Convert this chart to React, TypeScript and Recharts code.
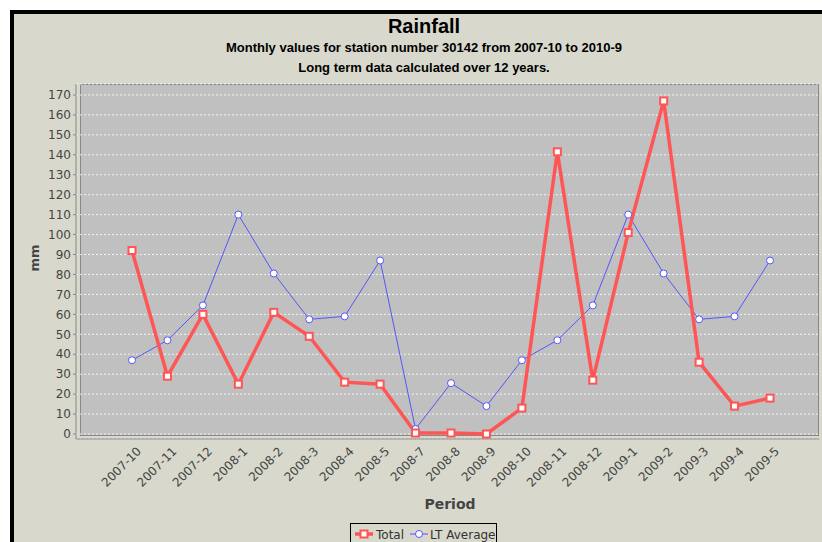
import { LineChart, Line, XAxis, YAxis, CartesianGrid } from 'recharts'

const periods = [
  '2007-10', '2007-11', '2007-12', '2008-1', '2008-2', '2008-3', '2008-4', '2008-5',
  '2008-7', '2008-8', '2008-9', '2008-10', '2008-11', '2008-12', '2009-1', '2009-2',
  '2009-3', '2009-4', '2009-5',
]
const total = [92, 29, 60, 25, 61, 49, 26, 25, 0.5, 0.5, 0, 13, 141.5, 27, 101, 167, 36, 14, 18]
const ltAverage = [37, 47, 64.5, 110, 80.5, 57.5, 59, 87, 2.5, 25.5, 14, 37, 47, 64.5, 110, 80.5, 57.5, 59, 87]
const yTicks = [0, 10, 20, 30, 40, 50, 60, 70, 80, 90, 100, 110, 120, 130, 140, 150, 160, 170]

const data = periods.map((p, i) => ({ period: p, total: total[i], lt: ltAverage[i] }))

const RED = '#ff5555'
const BLUE = '#5555ff'
const SANS = '"DejaVu Sans", sans-serif'

const SquareDot = (props: any) => {
  const { cx, cy } = props
  if (cx == null || cy == null) return null
  return <rect x={cx - 3.5} y={cy - 3.5} width={7} height={7} fill="#fff" stroke={RED} strokeWidth={2} />
}

const CircleDot = (props: any) => {
  const { cx, cy } = props
  if (cx == null || cy == null) return null
  return <circle cx={cx} cy={cy} r={3.5} fill="#fff" stroke={BLUE} strokeWidth={1} />
}

const PeriodTick = (props: any) => {
  const { x, y, payload } = props
  const ax = x + 10
  const ay = y + 13
  return (
    <text x={ax} y={ay} transform={`rotate(-45, ${ax}, ${ay})`} textAnchor="end" fontSize={12} fill="#444" fontFamily={SANS}>
      {payload.value}
    </text>
  )
}

export default function App() {
  return (
    <div style={{ position: 'fixed', left: 0, top: 0, width: 822, height: 542, background: '#fff', overflow: 'hidden' }}>
      <div style={{ position: 'absolute', left: 10, top: 10, width: 830, height: 540, borderLeft: '4px solid #000', borderTop: '4px solid #000', background: '#d8d9cc' }} />
      <div style={{ position: 'absolute', left: 14, width: 820, top: 14, textAlign: 'center', fontFamily: '"Liberation Sans", Arial, sans-serif', fontWeight: 'bold', color: '#000' }}>
        <div style={{ fontSize: 20, lineHeight: '24px' }}>Rainfall</div>
        <div style={{ fontSize: 13, lineHeight: '20px', marginTop: 0 }}>Monthly values for station number 30142 from 2007-10 to 2010-9</div>
        <div style={{ fontSize: 13, lineHeight: '20px' }}>Long term data calculated over 12 years.</div>
      </div>
      <div style={{ position: 'absolute', left: 80, top: 84, width: 739, height: 352, background: '#c0c0c0', border: '1px solid #888', boxSizing: 'border-box' }} />
      <div style={{ position: 'absolute', left: 0, top: 0 }}>
        <LineChart width={822} height={542} data={data} margin={{ top: 84, right: 3, bottom: 40, left: 16 }}>
          <CartesianGrid vertical={false} stroke="#ffffff" strokeDasharray="2 2" strokeOpacity={0.8} />
          <XAxis
            dataKey="period"
            height={63}
            padding={{ left: 56, right: 49 }}
            tickLine={false}
            tickSize={0}
            tickMargin={0}
            axisLine={{ stroke: '#888' }}
            interval={0}
            tick={<PeriodTick />}
          />
          <YAxis
            width={60}
            domain={[-2.5, 175.5]}
            ticks={yTicks}
            allowDataOverflow
            interval={0}
            tickSize={3}
            tickMargin={2}
            tickLine={{ stroke: '#888' }}
            axisLine={{ stroke: '#888' }}
            tick={{ fontSize: 12, fill: '#444', fontFamily: SANS }}
          />
          <Line type="linear" dataKey="lt" stroke={BLUE} strokeWidth={1} dot={<CircleDot />} isAnimationActive={false} />
          <Line type="linear" dataKey="total" stroke={RED} strokeWidth={3.5} dot={<SquareDot />} isAnimationActive={false} />
        </LineChart>
      </div>
      <div style={{ position: 'absolute', left: 20, top: 248, width: 30, height: 20, transform: 'rotate(-90deg)', textAlign: 'center', fontFamily: SANS, fontWeight: 'bold', fontSize: 13, color: '#444', lineHeight: '20px' }}>mm</div>
      <div style={{ position: 'absolute', left: 400, top: 495, width: 100, textAlign: 'center', fontFamily: SANS, fontWeight: 'bold', fontSize: 14, color: '#444', lineHeight: '18px' }}>Period</div>
      <div style={{ position: 'absolute', left: 350, top: 523, width: 145, height: 24, border: '1px solid #000', background: '#d8d9cc', display: 'flex', alignItems: 'center', fontFamily: SANS, fontSize: 12, color: '#333' }}>
        <svg width={22} height={12} style={{ marginLeft: 3, marginTop: -4 }}>
          <line x1={1} y1={6} x2={19} y2={6} stroke={RED} strokeWidth={3.5} />
          <rect x={6.5} y={2.5} width={7} height={7} fill="#fff" stroke={RED} strokeWidth={2} />
        </svg>
        <span style={{ marginTop: -3 }}>Total</span>
        <svg width={22} height={12} style={{ marginLeft: 4, marginTop: -4 }}>
          <line x1={2} y1={6} x2={20} y2={6} stroke={BLUE} strokeWidth={1} />
          <circle cx={11} cy={6} r={3.5} fill="#fff" stroke={BLUE} strokeWidth={1} />
        </svg>
        <span style={{ marginTop: -3 }}>LT Average</span>
      </div>
    </div>
  )
}
